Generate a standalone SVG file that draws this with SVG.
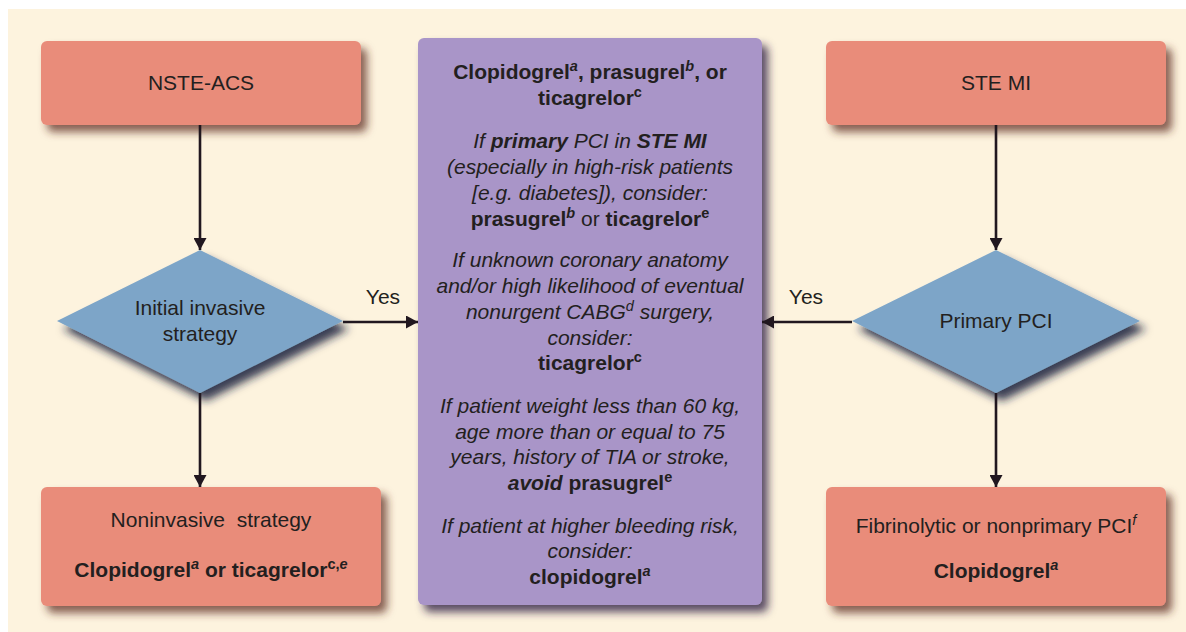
<svg xmlns="http://www.w3.org/2000/svg" width="1186" height="632" viewBox="0 0 1186 632">
  <defs>
    <style>
      text { font-family: "Liberation Sans", Arial, sans-serif; font-size: 21px; fill: #231F20; text-anchor: middle; }
      .b { font-weight: bold; }
      .i { font-style: italic; }
      .sup { font-size: 14.5px; }
      .pre { white-space: pre; }
      .box { fill: #E98C7A; }
      .dia { fill: #7DA5C8; }
      .mid { fill: #A995C8; }
      .conn { stroke: #21171F; stroke-width: 2.6; fill: none; marker-end: url(#arrow); }
    </style>
    <marker id="arrow" markerUnits="userSpaceOnUse" markerWidth="13" markerHeight="13" refX="12" refY="6.5" orient="auto">
      <path d="M0,0 L12,6.5 L0,13 z" fill="#21171F"/>
    </marker>
    <filter id="shBox" x="-10%" y="-20%" width="125%" height="150%">
      <feDropShadow dx="6" dy="7" stdDeviation="4" flood-color="#5E2E24" flood-opacity="0.75"/>
    </filter>
    <filter id="shDia" x="-10%" y="-10%" width="125%" height="130%">
      <feDropShadow dx="6" dy="8" stdDeviation="4.5" flood-color="#13203E" flood-opacity="0.85"/>
    </filter>
    <filter id="shMid" x="-10%" y="-5%" width="125%" height="112%">
      <feDropShadow dx="6" dy="7" stdDeviation="4" flood-color="#2E2244" flood-opacity="0.8"/>
    </filter>
  </defs>

  <!-- page background -->
  <rect x="0" y="0" width="1186" height="632" fill="#FFFFFF"/>
  <rect x="8" y="9" width="1178" height="623" fill="#FDF3DE"/>

  <!-- left column -->
  <g id="nste-acs">
    <rect class="box" x="41" y="41" width="320" height="84" rx="6" filter="url(#shBox)"/>
    <text x="201" y="90">NSTE-ACS</text>
  </g>

  <g id="initial-invasive">
    <polygon class="dia" points="200,250 343,321 200,393 57,321" filter="url(#shDia)"/>
    <text x="200" y="315">Initial invasive</text>
    <text x="200" y="341">strategy</text>
  </g>

  <g id="noninvasive">
    <rect class="box" x="41" y="487" width="340" height="119" rx="6" filter="url(#shBox)"/>
    <text class="pre" x="211" y="527">Noninvasive  strategy</text>
    <text class="b" x="211" y="577">Clopidogrel<tspan class="sup i" dy="-8">a</tspan><tspan dy="8"> or ticagrelor</tspan><tspan class="sup" dy="-8">c,</tspan><tspan class="sup i">e</tspan></text>
  </g>

  <!-- centre recommendations -->
  <g id="recommendations">
    <rect class="mid" x="418" y="38" width="344" height="567" rx="6" filter="url(#shMid)"/>
    <text class="b" x="590" y="79">Clopidogrel<tspan class="sup i" dy="-8">a</tspan><tspan dy="8">, prasugrel</tspan><tspan class="sup i" dy="-8">b</tspan><tspan dy="8">, or</tspan></text>
    <text class="b" x="590" y="105">ticagrelor<tspan class="sup" dy="-8">c</tspan></text>

    <text class="i" x="590" y="148">If <tspan class="b">primary</tspan> PCI in <tspan class="b">STE MI</tspan></text>
    <text class="i" x="590" y="174">(especially in high-risk patients</text>
    <text class="i" x="590" y="200">[e.g. diabetes]), consider:</text>
    <text x="590" y="226"><tspan class="b">prasugrel</tspan><tspan class="sup b i" dy="-8">b</tspan><tspan dy="8"> or </tspan><tspan class="b">ticagrelor</tspan><tspan class="sup b" dy="-8">e</tspan></text>

    <text class="i" x="590" y="267">If unknown coronary anatomy</text>
    <text class="i" x="590" y="293">and/or high likelihood of eventual</text>
    <text class="i" x="590" y="319">nonurgent CABG<tspan class="sup" dy="-8">d</tspan><tspan dy="8"> surgery,</tspan></text>
    <text class="i" x="590" y="345">consider:</text>
    <text class="b" x="590" y="370">ticagrelor<tspan class="sup" dy="-8">c</tspan></text>

    <text class="i" x="590" y="413">If patient weight less than 60 kg,</text>
    <text class="i" x="590" y="439">age more than or equal to 75</text>
    <text class="i" x="590" y="464">years, history of TIA or stroke,</text>
    <text class="b" x="590" y="490"><tspan class="i">avoid</tspan> prasugrel<tspan class="sup" dy="-8">e</tspan></text>

    <text class="i" x="590" y="533">If patient at higher bleeding risk,</text>
    <text class="i" x="590" y="558">consider:</text>
    <text class="b" x="590" y="584">clopidogrel<tspan class="sup i" dy="-8">a</tspan></text>
  </g>

  <!-- right column -->
  <g id="ste-mi">
    <rect class="box" x="826" y="41" width="340" height="84" rx="6" filter="url(#shBox)"/>
    <text x="996" y="90">STE MI</text>
  </g>

  <g id="primary-pci">
    <polygon class="dia" points="996,250 1140,321 996,393 852,321" filter="url(#shDia)"/>
    <text x="996" y="328">Primary PCI</text>
  </g>

  <g id="fibrinolytic">
    <rect class="box" x="826" y="487" width="340" height="119" rx="6" filter="url(#shBox)"/>
    <text x="996" y="533">Fibrinolytic or nonprimary PCI<tspan class="sup i" dy="-8">f</tspan></text>
    <text class="b" x="996" y="578">Clopidogrel<tspan class="sup i" dy="-8">a</tspan></text>
  </g>

  <!-- connectors -->
  <g id="connectors">
    <line class="conn" x1="200" y1="125" x2="200" y2="250"/>
    <line class="conn" x1="200" y1="393" x2="200" y2="487"/>
    <line class="conn" x1="343" y1="322" x2="418" y2="322"/>
    <line class="conn" x1="996" y1="125" x2="996" y2="250"/>
    <line class="conn" x1="996" y1="393" x2="996" y2="487"/>
    <line class="conn" x1="852" y1="322" x2="762" y2="322"/>
    <text x="383" y="304">Yes</text>
    <text x="806" y="304">Yes</text>
  </g>
</svg>
